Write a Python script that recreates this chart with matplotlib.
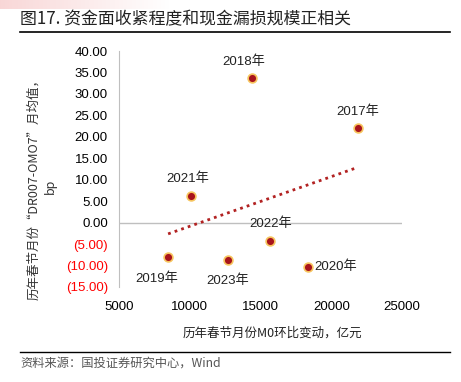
import numpy as np
import matplotlib
matplotlib.use("Agg")
import matplotlib.pyplot as plt
from matplotlib.ticker import FuncFormatter, MultipleLocator

plt.rcParams['font.family'] = ['Liberation Sans', 'Noto Sans CJK SC', 'DejaVu Sans']

# data
years = ["2017年", "2018年", "2019年", "2020年", "2021年", "2022年", "2023年"]
m0_change = [21900, 14400, 8470, 18360, 10070, 15700, 12700]   # 亿元
dr_spread = [22.0, 33.6, -8.1, -10.3, 6.3, -4.2, -8.7]        # bp

# label offsets (points) for each year label
label_off = {"2017年": (0, 12), "2018年": (-6, 12), "2019年": (-8, -15),
             "2020年": (20, 0), "2021年": (-2, 12), "2022年": (0, 12),
             "2023年": (0, -15)}

W, H = 461, 382
fig = plt.figure(figsize=(W / 100, H / 100), dpi=100)

# pink gradient strip at the very top
gax = fig.add_axes([0, 1 - 9 / H, 170 / W, 9 / H])
grad = np.linspace(0, 1, 200)[None, :]
rgba = np.zeros((1, 200, 4))
rgba[..., 0] = 0.93
rgba[..., 1] = 0.55
rgba[..., 2] = 0.55
rgba[..., 3] = 0.35 * (1 - grad)
gax.imshow(rgba, aspect="auto")
gax.axis("off")

fig.text(20 / W, 1 - 19 / H, "图17. 资金面收紧程度和现金漏损规模正相关",
         fontsize=12.2, va="center", ha="left",
         family=['Noto Sans CJK SC', 'DejaVu Sans'], color="#222222")
fig.add_artist(plt.Line2D([20 / W, 450 / W], [1 - 32 / H, 1 - 32 / H],
                          color="black", lw=1.2))
fig.add_artist(plt.Line2D([20 / W, 450 / W], [1 - 352 / H, 1 - 352 / H],
                          color="black", lw=1.0))
fig.text(20 / W, 1 - 363 / H, "资料来源：国投证券研究中心，Wind", fontsize=8.8,
         va="center", ha="left", color="#555555", style="italic",
         family=['Noto Sans CJK SC', 'DejaVu Sans'])

ax = fig.add_axes([119 / W, 1 - 287 / H, (402 - 119) / W, (287 - 51) / H])
ax.set_xlim(5000, 25000)
ax.set_ylim(-15, 40)
ax.yaxis.set_major_locator(MultipleLocator(5))
ax.xaxis.set_major_locator(MultipleLocator(5000))
for s in ["top", "right", "bottom"]:
    ax.spines[s].set_visible(False)
ax.spines["left"].set_color("#bfbfbf")
ax.axhline(0, color="#bfbfbf", lw=1, zorder=1)
ax.tick_params(length=0, labelsize=9.5, pad=8)
ax.tick_params(axis="x", pad=10)

def yfmt(v, pos):
    return f"({abs(v):.2f})" if v < 0 else f"{v:.2f}"
ax.yaxis.set_major_formatter(FuncFormatter(yfmt))
fig.canvas.draw()
for lab in ax.get_yticklabels():
    if lab.get_text().startswith("("):
        lab.set_color("red")

# trendline
x = np.array(m0_change, dtype=float)
y = np.array(dr_spread, dtype=float)
k, b = np.polyfit(x, y, 1)
xs = np.array([x.min(), x.max()])
ax.plot(xs, k * xs + b, ls=(0, (1, 1.5)), color="#b22222", lw=2, zorder=2)

ax.scatter(x, y, s=40, color="#a8141c", edgecolor="#f7c55e", linewidth=1.2, zorder=3)
for xi, yi, name in zip(x, y, years):
    dx, dy = label_off[name]
    ax.annotate(name, (xi, yi), xytext=(dx, dy), textcoords="offset points",
                ha="center", va="center", fontsize=9.5, color="#222222")

fig.text(42 / W, 1 - 186 / H, "历年春节月份“DR007-OMO7”月均值，\nbp", rotation=90,
         ha="center", va="center", fontsize=9, linespacing=1.4,
         family=['Noto Sans CJK SC', 'DejaVu Sans'], color="#333333")
fig.text(272 / W, 1 - 333 / H, "历年春节月份M0环比变动，亿元", ha="center", va="center",
         fontsize=9, family=['Noto Sans CJK SC', 'DejaVu Sans'], color="#222222")

fig.savefig("out.png", dpi=100)
